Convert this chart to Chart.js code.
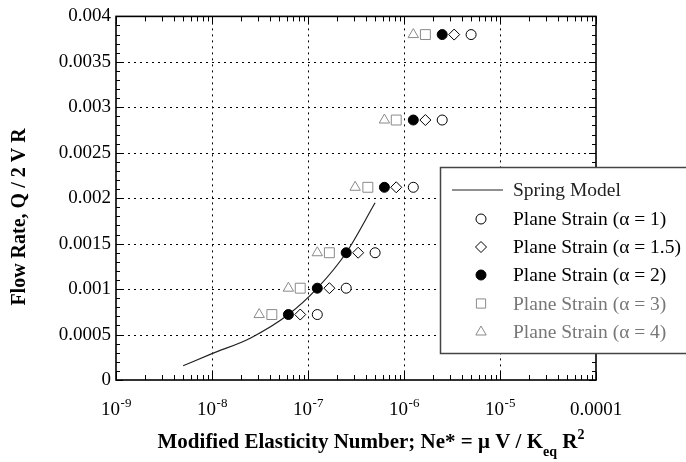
<!DOCTYPE html>
<html><head><meta charset="utf-8">
<style>html,body{margin:0;padding:0;background:#fff}#wrap{width:686px;height:462px;position:relative}</style>
<script src="https://cdn.jsdelivr.net/npm/chart.js@4.4.0/dist/chart.umd.min.js"></script>
</head><body><div id="wrap"><canvas id="c" width="686" height="462"></canvas></div>
<script>
// ---------- data ----------
const flowRates = [0.00072, 0.00101, 0.0014, 0.00212, 0.00286, 0.0038];
const neAlpha1  = [1.25e-7, 2.5e-7, 5e-7, 1.25e-6, 2.5e-6, 5e-6];
const neAlpha15 = [8.3e-8, 1.67e-7, 3.33e-7, 8.3e-7, 1.67e-6, 3.33e-6];
const neAlpha2  = [6.25e-8, 1.25e-7, 2.5e-7, 6.25e-7, 1.25e-6, 2.5e-6];
const neAlpha3  = [4.2e-8, 8.3e-8, 1.67e-7, 4.2e-7, 8.3e-7, 1.67e-6];
const neAlpha4  = [3.1e-8, 6.25e-8, 1.25e-7, 3.1e-7, 6.25e-7, 1.25e-6];
const springNe   = [5e-9, 1e-8, 2.5e-8, 6.25e-8, 1.25e-7, 2.5e-7, 5e-7];
const springFlow = [0.000156, 0.00029, 0.00046, 0.00072, 0.00101, 0.0014, 0.00195];
const seriesLabels = ['Spring Model','Plane Strain (\u03B1 = 1)','Plane Strain (\u03B1 = 1.5)','Plane Strain (\u03B1 = 2)','Plane Strain (\u03B1 = 3)','Plane Strain (\u03B1 = 4)'];
const xTickValues = [1e-9, 1e-8, 1e-7, 1e-6, 1e-5, 1e-4];
const xTickLabels = ['10^-9','10^-8','10^-7','10^-6','10^-5','0.0001'];
const yMin = 0, yMax = 0.004, yStep = 0.0005;

const FONT = '"Liberation Serif","Times New Roman",Times,serif';
const GRAY = '#8a8a8a';
const pts = (xs, ys) => xs.map((v, i) => ({x: v, y: ys[i]}));

const datasets = [
  {label: seriesLabels[0], data: pts(springNe, springFlow), showLine: true, borderColor: '#222', borderWidth: 1.2,
   pointRadius: 0, cubicInterpolationMode: 'monotone', order: 1, legendText: '#222'},
  {label: seriesLabels[1], data: pts(neAlpha1, flowRates), pointStyle: 'circle', radius: 5, backgroundColor: '#fff', borderColor: '#000', borderWidth: 1, order: 0, legendText: '#000'},
  {label: seriesLabels[2], data: pts(neAlpha15, flowRates), pointStyle: 'rectRot', radius: 5.5, backgroundColor: '#fff', borderColor: '#000', borderWidth: 1, order: 0, legendText: '#000'},
  {label: seriesLabels[3], data: pts(neAlpha2, flowRates), pointStyle: 'circle', radius: 5, backgroundColor: '#000', borderColor: '#000', borderWidth: 1, order: 0, legendText: '#000'},
  {label: seriesLabels[4], data: pts(neAlpha3, flowRates), pointStyle: 'rect', radius: 7, backgroundColor: '#fff', borderColor: GRAY, borderWidth: 1, order: 0, legendText: '#777'},
  {label: seriesLabels[5], data: pts(neAlpha4, flowRates), pointStyle: 'triangle', radius: 6, backgroundColor: '#fff', borderColor: GRAY, borderWidth: 1, order: 0, legendText: '#777'}
];

function line(ctx, x1, y1, x2, y2){ ctx.beginPath(); ctx.moveTo(x1, y1); ctx.lineTo(x2, y2); ctx.stroke(); }

function marker(ctx, style, r, x, y, fill, stroke){
  ctx.save(); ctx.fillStyle = fill; ctx.strokeStyle = stroke; ctx.lineWidth = 1; ctx.beginPath();
  if (style === 'circle') ctx.arc(x, y, r, 0, Math.PI * 2);
  else if (style === 'rectRot') { ctx.moveTo(x, y - r); ctx.lineTo(x + r, y); ctx.lineTo(x, y + r); ctx.lineTo(x - r, y); ctx.closePath(); }
  else if (style === 'rect') { const s = r * Math.SQRT1_2; ctx.rect(x - s, y - s, 2 * s, 2 * s); }
  else if (style === 'triangle') { ctx.moveTo(x, y - r); ctx.lineTo(x + r * 0.866, y + r * 0.5); ctx.lineTo(x - r * 0.866, y + r * 0.5); ctx.closePath(); }
  ctx.fill(); ctx.stroke(); ctx.restore();
}

const deco = {
  id: 'deco',
  beforeDatasetsDraw(chart){
    const {ctx, chartArea: a, scales: {x, y}} = chart;
    ctx.save();
    ctx.strokeStyle = '#000'; ctx.lineWidth = 1; ctx.setLineDash([2, 4]);
    for (let v = yMin + yStep; v < yMax - 1e-9; v += yStep) {
      const py = Math.round(y.getPixelForValue(v)) + 0.5; line(ctx, a.left, py, a.right, py);
    }
    for (let i = 1; i < xTickValues.length - 1; i++) {
      const px = Math.round(x.getPixelForValue(xTickValues[i])) + 0.5; line(ctx, px, a.top, px, a.bottom);
    }
    ctx.setLineDash([]);
    ctx.lineWidth = 1;
    for (let k = 0; k <= Math.round((yMax - yMin) / 0.0001); k++) {
      const v = yMin + k * 0.0001; const py = Math.round(y.getPixelForValue(v)) + 0.5;
      const len = (k % 5 === 0) ? 7 : 4;
      line(ctx, a.left, py, a.left + len, py); line(ctx, a.right, py, a.right - len, py);
    }
    for (let d = -9; d <= -4; d++) {
      for (let m = 1; m <= 9; m++) {
        if (d === -4 && m > 1) break;
        const v = m * Math.pow(10, d); const px = Math.round(x.getPixelForValue(v)) + 0.5;
        const len = (m === 1) ? 8 : 5;
        line(ctx, px, a.bottom, px, a.bottom - len); line(ctx, px, a.top, px, a.top + len);
      }
    }
    ctx.lineWidth = 1.6; ctx.strokeStyle = '#000';
    ctx.strokeRect(a.left, a.top, a.right - a.left, a.bottom - a.top);
    ctx.restore();
  },
  afterDraw(chart){
    const {ctx, chartArea: a, scales: {x, y}} = chart;
    ctx.save();
    ctx.fillStyle = '#000'; ctx.textBaseline = 'alphabetic';
    xTickValues.forEach((v, i) => {
      const px = x.getPixelForValue(v); const lab = xTickLabels[i];
      const parts = lab.split('^');
      ctx.font = '19px ' + FONT; const wb = ctx.measureText(parts[0]).width;
      let we = 0;
      if (parts[1]) { ctx.font = '13px ' + FONT; we = ctx.measureText(parts[1]).width; }
      const x0 = px - (wb + we) / 2;
      ctx.font = '19px ' + FONT; ctx.textAlign = 'left'; ctx.fillText(parts[0], x0, 415);
      if (parts[1]) { ctx.font = '13px ' + FONT; ctx.fillText(parts[1], x0 + wb + 0.5, 407); }
    });
    const segs = [
      {t: 'Modified Elasticity Number; Ne* = \u03BC V / K', f: 'bold 21px ', dy: 0},
      {t: 'eq', f: 'bold 14px ', dy: 8},
      {t: ' R', f: 'bold 21px ', dy: 0},
      {t: '2', f: 'bold 14px ', dy: -9}
    ];
    let tw = 0; segs.forEach(s => { ctx.font = s.f + FONT; s.w = ctx.measureText(s.t).width; tw += s.w; });
    let cx = 371 - tw / 2;
    segs.forEach(s => { ctx.font = s.f + FONT; ctx.fillText(s.t, cx, 448 + s.dy); cx += s.w; });
    ctx.save(); ctx.translate(20, 217); ctx.rotate(-Math.PI / 2);
    ctx.font = 'bold 20px ' + FONT; ctx.textAlign = 'center'; ctx.textBaseline = 'middle';
    ctx.fillText('Flow Rate, Q / 2 V R', 0, 0); ctx.restore();
    ctx.fillStyle = '#fff'; ctx.fillRect(440, 167, 260, 186);
    ctx.strokeStyle = '#444'; ctx.lineWidth = 1.5; ctx.strokeRect(440.5, 167.5, 260, 186);
    const rowY = [190, 219, 247, 275, 303.5, 332];
    chart.data.datasets.forEach((ds, i) => {
      const ry = rowY[i];
      if (ds.showLine) { ctx.strokeStyle = ds.borderColor; ctx.lineWidth = 1.2; line(ctx, 452, ry, 503, ry); }
      else marker(ctx, ds.pointStyle, ds.pointStyle === 'rect' ? 6.5 : ds.radius, 481, ry, ds.backgroundColor, ds.borderColor);
      ctx.fillStyle = ds.legendText; ctx.font = '19.5px ' + FONT; ctx.textAlign = 'left'; ctx.textBaseline = 'middle';
      ctx.fillText(ds.label, 513, ry + 1);
    });
    ctx.restore();
  }
};

new Chart(document.getElementById('c'), {
  type: 'scatter',
  data: {datasets},
  options: {
    responsive: false, animation: false, devicePixelRatio: 1,
    layout: {padding: {top: 13, right: 90, left: 0, bottom: 0}},
    plugins: {legend: {display: false}, tooltip: {enabled: false}},
    elements: {point: {hoverRadius: 5}},
    scales: {
      x: {type: 'logarithmic', min: 1e-9, max: 1e-4,
          grid: {display: false, drawTicks: false}, border: {display: false}, ticks: {display: false},
          afterFit(s){ s.height = 82; }},
      y: {type: 'linear', min: yMin, max: yMax,
          grid: {display: false, drawTicks: false}, border: {display: false},
          ticks: {stepSize: yStep, color: '#000', padding: 5, font: {family: FONT, size: 19},
                  callback: v => v === 0 ? '0' : String(+v.toFixed(4))},
          afterFit(s){ s.width = 116; }}
    }
  },
  plugins: [deco]
});
</script>
</body></html>
